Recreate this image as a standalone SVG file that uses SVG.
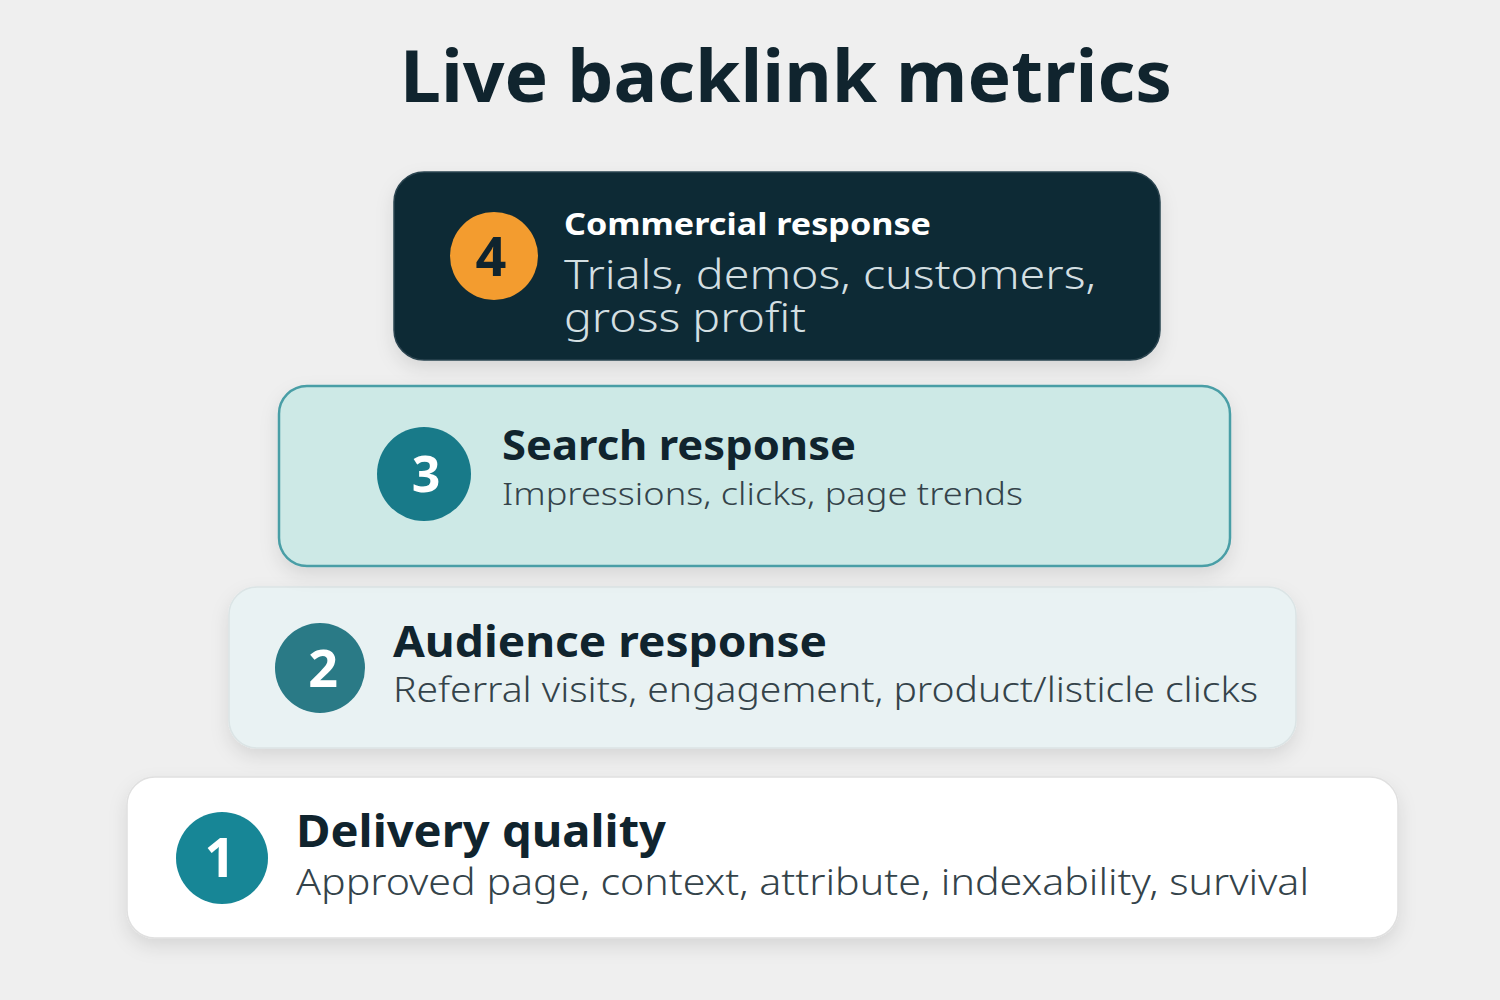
<svg xmlns="http://www.w3.org/2000/svg" width="1500" height="1000" viewBox="0 0 1500 1000">
  <defs>
    <filter id="sh" x="-10%" y="-20%" width="120%" height="150%">
      <feDropShadow dx="0" dy="8" stdDeviation="9" flood-color="#000" flood-opacity="0.10"/>
    </filter>
    <style>
      .t{font-family:"Noto Sans","Open Sans",sans-serif;}
      .h{font-weight:700;fill:#10242e;}
      .s{font-weight:300;fill:#34434a;}
      .n{font-weight:700;text-anchor:middle;}
    </style>
  </defs>
  <rect width="1500" height="1000" fill="#efefef"/>
  <text class="t h" x="400" y="102" font-size="72" textLength="772" lengthAdjust="spacingAndGlyphs">Live backlink metrics</text>

  <g id="connectors"></g>

  <g id="node-1">
    <rect x="127" y="777" width="1271" height="161" rx="28" fill="#ffffff" stroke="#e0e0e0" stroke-width="1.5" filter="url(#sh)"/>
    <circle cx="222" cy="858" r="46" fill="#178696"/>
    <text class="t n" x="220" y="877" font-size="54" fill="#ffffff">1</text>
    <text class="t h" x="296" y="847" font-size="45" textLength="370" lengthAdjust="spacingAndGlyphs">Delivery quality</text>
    <text class="t s" x="296" y="895" font-size="36" textLength="1013" lengthAdjust="spacingAndGlyphs">Approved page, context, attribute, indexability, survival</text>
  </g>

  <g id="node-2">
    <rect x="229" y="587" width="1067" height="161" rx="28" fill="#e9f2f3" stroke="#dbe4e5" stroke-width="1.5" filter="url(#sh)"/>
    <circle cx="320" cy="668" r="45" fill="#2a7a86"/>
    <text class="t n" x="323" y="687" font-size="52" fill="#ffffff">2</text>
    <text class="t h" x="393" y="657" font-size="43" textLength="434" lengthAdjust="spacingAndGlyphs">Audience response</text>
    <text class="t s" x="393" y="702" font-size="34" textLength="865" lengthAdjust="spacingAndGlyphs">Referral visits, engagement, product/listicle clicks</text>
  </g>

  <g id="node-3">
    <rect x="279" y="386" width="951" height="180" rx="28" fill="#cde9e6" stroke="#4a9ea6" stroke-width="2.5" filter="url(#sh)"/>
    <circle cx="424" cy="474" r="47" fill="#187a89"/>
    <text class="t n" x="426" y="492" font-size="50" fill="#ffffff">3</text>
    <text class="t h" x="502" y="460" font-size="41" textLength="354" lengthAdjust="spacingAndGlyphs">Search response</text>
    <text class="t s" x="502" y="505" font-size="32" textLength="521" lengthAdjust="spacingAndGlyphs">Impressions, clicks, page trends</text>
  </g>

  <g id="node-4">
    <rect x="394" y="172" width="766" height="188" rx="30" fill="#0f2a35" stroke="#2a4450" stroke-width="1.5" filter="url(#sh)"/>
    <circle cx="494" cy="256" r="44" fill="#f39c2f"/>
    <text class="t n" x="491" y="276" font-size="54" fill="#10242e">4</text>
    <text class="t" x="564" y="235" font-size="31" font-weight="700" fill="#ffffff" textLength="367" lengthAdjust="spacingAndGlyphs">Commercial response</text>
    <text class="t" font-size="40" font-weight="300" fill="#d3dfe2"><tspan x="564" y="289" textLength="532" lengthAdjust="spacingAndGlyphs">Trials, demos, customers,</tspan><tspan x="564" y="332" textLength="242" lengthAdjust="spacingAndGlyphs">gross profit</tspan></text>
  </g>
</svg>
